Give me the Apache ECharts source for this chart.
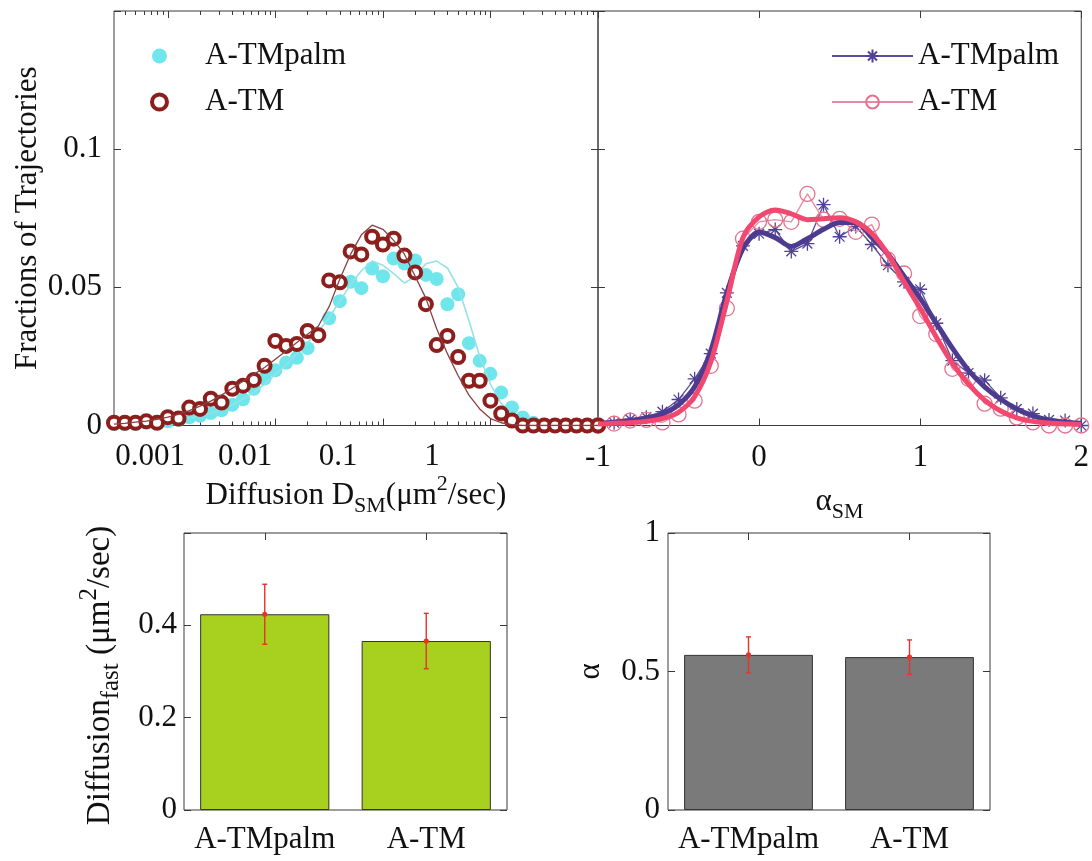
<!DOCTYPE html>
<html><head><meta charset="utf-8">
<script src="https://cdn.jsdelivr.net/npm/echarts@6/dist/echarts.min.js"></script>
<style>html,body{margin:0;padding:0;background:#fff}#c{width:1092px;height:861px}</style>
</head><body><div id="c"></div>
<script>
// ---------- DATA ----------
// log10 of diffusion coefficient D_SM (um^2/sec), bin centres
const logDBins = [-3.5,-3.4,-3.3,-3.2,-3.1,-3.0,-2.9,-2.8,-2.7,-2.6,-2.5,-2.4,-2.3,-2.2,-2.1,-2.0,-1.9,-1.8,-1.7,-1.6,-1.5,-1.4,-1.3,-1.2,-1.1,-1.0,-0.9,-0.8,-0.7,-0.6,-0.5,-0.4,-0.3,-0.2,-0.1,0.0,0.1,0.2,0.3,0.4,0.5,0.6,0.7,0.8,0.9,1.0];
const dPalmPoints = [0.0005,0.0005,0.0005,0.001,0.001,0.0015,0.002,0.003,0.0035,0.0045,0.0055,0.0075,0.0095,0.0133,0.017,0.02,0.0227,0.0245,0.028,0.0331,0.0388,0.045,0.052,0.0497,0.0568,0.054,0.0604,0.0586,0.0597,0.0545,0.053,0.0439,0.0475,0.0298,0.0234,0.0187,0.0119,0.0065,0.0029,0.001,0,0,0,0,0,0];
const dTmPoints = [0.001,0.001,0.001,0.0015,0.001,0.003,0.0025,0.0065,0.006,0.0097,0.0083,0.0133,0.0144,0.0165,0.0216,0.0306,0.0288,0.0295,0.0342,0.0327,0.0525,0.0518,0.063,0.0619,0.0683,0.0655,0.0676,0.0615,0.0554,0.0439,0.0291,0.0324,0.0248,0.0162,0.0162,0.009,0.0043,0.0018,0,0,0,0,0,0,0,0];
const dPalmFit = [0.0003,0.0004,0.0006,0.0008,0.001,0.0014,0.002,0.0027,0.0035,0.0045,0.0058,0.0074,0.0095,0.012,0.015,0.0185,0.022,0.026,0.030,0.034,0.039,0.045,0.051,0.056,0.0595,0.058,0.055,0.0515,0.054,0.0585,0.0595,0.057,0.050,0.038,0.025,0.015,0.008,0.004,0.0015,0.0005,0,0,0,0,0,0];
const dTmFit = [0.0005,0.0008,0.0012,0.0016,0.0022,0.003,0.004,0.0054,0.007,0.0088,0.011,0.0135,0.016,0.0185,0.021,0.024,0.027,0.030,0.033,0.036,0.043,0.053,0.062,0.069,0.0725,0.071,0.067,0.062,0.054,0.046,0.035,0.026,0.018,0.011,0.006,0.0025,0.001,0.0003,0,0,0,0,0,0,0,0];

// alpha_SM bins
const alphaBins = [-1.0,-0.9,-0.8,-0.7,-0.6,-0.5,-0.4,-0.3,-0.2,-0.1,0.0,0.1,0.2,0.3,0.4,0.5,0.6,0.7,0.8,0.9,1.0,1.1,1.2,1.3,1.4,1.5,1.6,1.7,1.8,1.9,2.0];
const aPalmPoints = [0,0.001,0.0022,0.003,0.005,0.0094,0.0169,0.026,0.048,0.065,0.0694,0.0709,0.063,0.0658,0.0799,0.0683,0.072,0.0655,0.058,0.052,0.0493,0.037,0.0235,0.019,0.0164,0.010,0.006,0.0043,0.002,0.0018,0];
const aTmPoints = [0,0.0007,0.0018,0.002,0.0011,0.004,0.009,0.0216,0.0424,0.0676,0.0737,0.0745,0.0737,0.0838,0.0745,0.0748,0.0701,0.0727,0.060,0.055,0.0396,0.0331,0.0205,0.0169,0.0079,0.0061,0.0029,0.0011,0,0,0];
const aPalmFit = [0.0008,0.0012,0.0018,0.0027,0.0042,0.0075,0.014,0.027,0.048,0.064,0.070,0.068,0.0648,0.0676,0.071,0.0735,0.0735,0.068,0.062,0.054,0.046,0.037,0.028,0.020,0.014,0.0095,0.006,0.0035,0.002,0.0012,0.0008];
const aTmFit = [0.0005,0.0008,0.001,0.0015,0.0025,0.0048,0.0105,0.023,0.045,0.068,0.0755,0.078,0.0766,0.0745,0.0748,0.0752,0.0737,0.0695,0.062,0.052,0.0424,0.032,0.0225,0.015,0.0092,0.0052,0.0028,0.0015,0.0009,0.0006,0.0004];

// bar panels
const barCats = ['A-TMpalm','A-TM'];
const diffFastMean = [0.424, 0.366];
const diffFastErr = [0.065, 0.06];
const alphaMean = [0.56, 0.552];
const alphaErr = [0.065, 0.062];

// tick labels of the log axis (as printed in the figure, where they sit along the axis)
const logLabels = ['0.001','0.01','0.1','1'];
const logLabelAt = [-3.165,-2.282,-1.417,-0.543];
const logMajorTicks = [-3,-2,-1,0];

// ---------- CHART ----------
const FONT = 'Liberation Serif';
const AX = '#3a3a3a';
const TXT = '#111';
const FS = 31;
const minorLog = [];
for (let n = -4; n <= 0; n++) for (let k = 2; k <= 9; k++) { const v = n + Math.log10(k); if (v > -3.5 && v < 1) minorLog.push(v); }

const zip = (xs, ys) => xs.map((x, i) => [x, ys[i]]);
const makeRich = (fs, sfs, pad) => ({
  t: {fontFamily: FONT, fontSize: fs, color: TXT},
  sub: {fontFamily: FONT, fontSize: sfs, color: TXT, padding: [pad, 0, 0, 0]},
  sup: {fontFamily: FONT, fontSize: sfs, color: TXT, padding: [0, 0, pad, 0]}
});
const richName = makeRich(FS, 22, 22);
const lbl = (extra) => Object.assign({fontFamily: FONT, fontSize: FS, color: TXT}, extra);
const tick = (len, extra) => Object.assign({show: true, inside: true, length: len, lineStyle: {color: AX, width: 1}}, extra);
const noLine = {show: false, onZero: false};
const ticksOnly = (o) => Object.assign({axisLine: noLine, splitLine: {show: false}, axisLabel: {show: false}}, o);
const nearestIdx = (arr, v) => { let b = 0; arr.forEach((a, i) => { if (Math.abs(a - v) < Math.abs(arr[b] - v)) b = i; }); return b; };

const xAxes = [
  // grid 0 bottom: major ticks + labels
  {type: 'value', gridIndex: 0, position: 'bottom', min: -3.5, max: 1,
   axisLine: noLine, splitLine: {show: false},
   axisTick: tick(7, {customValues: logMajorTicks}),
   axisLabel: lbl({customValues: logLabelAt, margin: 16, formatter: v => logLabels[nearestIdx(logLabelAt, v)]}),
   name: '{t|Diffusion D}{sub|SM}{t|(μm}{sup|2}{t|/sec)}', nameLocation: 'middle', nameGap: 42,
   nameTextStyle: {rich: richName}},
  ticksOnly({type: 'value', gridIndex: 0, position: 'bottom', min: -3.5, max: 1, axisTick: tick(4, {customValues: minorLog})}),
  ticksOnly({type: 'value', gridIndex: 0, position: 'top', min: -3.5, max: 1, axisTick: tick(7, {customValues: logMajorTicks})}),
  ticksOnly({type: 'value', gridIndex: 0, position: 'top', min: -3.5, max: 1, axisTick: tick(4, {customValues: minorLog})}),
  // grid 1
  {type: 'value', gridIndex: 1, position: 'bottom', min: -1, max: 2, interval: 1,
   axisLine: noLine, splitLine: {show: false}, axisTick: tick(7),
   axisLabel: lbl({margin: 17}),
   name: '{t|α}{sub|SM}', nameLocation: 'middle', nameGap: 54, nameTextStyle: {rich: richName}},
  ticksOnly({type: 'value', gridIndex: 1, position: 'top', min: -1, max: 2, interval: 1, axisTick: tick(7)}),
  // grid 2
  {type: 'category', gridIndex: 2, position: 'bottom', data: barCats,
   axisLine: noLine, splitLine: {show: false}, axisTick: {show: false},
   axisLabel: lbl({margin: 14, interval: 0})},
  ticksOnly({type: 'category', gridIndex: 2, position: 'top', data: barCats, axisTick: tick(7, {alignWithLabel: true, interval: 0})}),
  // grid 3
  {type: 'category', gridIndex: 3, position: 'bottom', data: barCats,
   axisLine: noLine, splitLine: {show: false}, axisTick: {show: false},
   axisLabel: lbl({margin: 14, interval: 0})},
  ticksOnly({type: 'category', gridIndex: 3, position: 'top', data: barCats, axisTick: tick(7, {alignWithLabel: true, interval: 0})})
];

const yAxes = [
  {type: 'value', gridIndex: 0, position: 'left', min: 0, max: 0.15, interval: 0.05,
   axisLine: noLine, splitLine: {show: false}, axisTick: tick(7),
   axisLabel: lbl({margin: 12, formatter: v => v > 0.14 ? '' : String(+v.toFixed(2))}),
   name: 'Fractions of Trajectories', nameLocation: 'middle', nameGap: 68,
   nameTextStyle: {fontFamily: FONT, fontSize: FS, color: TXT}},
  ticksOnly({type: 'value', gridIndex: 0, position: 'right', min: 0, max: 0.15, interval: 0.05, axisTick: tick(7)}),
  ticksOnly({type: 'value', gridIndex: 1, position: 'left', min: 0, max: 0.15, interval: 0.05, axisTick: tick(7)}),
  ticksOnly({type: 'value', gridIndex: 1, position: 'right', min: 0, max: 0.15, interval: 0.05, axisTick: tick(7)}),
  {type: 'value', gridIndex: 2, position: 'left', min: 0, max: 0.6, interval: 0.2,
   axisLine: noLine, splitLine: {show: false}, axisTick: tick(7),
   axisLabel: lbl({margin: 7, formatter: v => v > 0.55 ? '' : String(+v.toFixed(1))}),
   name: '{t|Diffusion}{sub|fast}{t| (μm}{sup|2}{t|/sec)}', nameLocation: 'middle', nameGap: 60,
   nameTextStyle: {rich: makeRich(33, 25, 22), padding: [0, 8, 0, 0]}},
  ticksOnly({type: 'value', gridIndex: 2, position: 'right', min: 0, max: 0.6, interval: 0.2, axisTick: tick(7)}),
  {type: 'value', gridIndex: 3, position: 'left', min: 0, max: 1, interval: 0.5,
   axisLine: noLine, splitLine: {show: false}, axisTick: tick(7),
   axisLabel: lbl({margin: 8, formatter: v => String(+v.toFixed(1))}),
   name: 'α', nameLocation: 'middle', nameGap: 62,
   nameTextStyle: {fontFamily: FONT, fontSize: FS, color: TXT}},
  ticksOnly({type: 'value', gridIndex: 3, position: 'right', min: 0, max: 1, interval: 0.5, axisTick: tick(7)})
];

const STAR = 'path://M5,0L5,10M0,5L10,5M1.5,1.5L8.5,8.5M1.5,8.5L8.5,1.5';
const RED = '#8c1e1c', CYAN = '#6ee6ec', PURPLE = '#4f4196', PINK = '#e4728f';

function errRender(params, api) {
  const x = api.value(0), m = api.value(1), e = api.value(2);
  const top = api.coord([x, m + e]), bot = api.coord([x, m - e]), mid = api.coord([x, m]);
  const c = 2.5, st = {stroke: '#e2352c', lineWidth: 1.4};
  return {type: 'group', children: [
    {type: 'line', shape: {x1: top[0], y1: top[1], x2: bot[0], y2: bot[1]}, style: st},
    {type: 'line', shape: {x1: top[0] - c, y1: top[1], x2: top[0] + c, y2: top[1]}, style: st},
    {type: 'line', shape: {x1: bot[0] - c, y1: bot[1], x2: bot[0] + c, y2: bot[1]}, style: st},
    {type: 'circle', shape: {cx: mid[0], cy: mid[1], r: 2.6}, style: {fill: '#e2352c'}}
  ]};
}

const legendNames = {'A-TMpalm': 'A-TMpalm', 'A-TM': 'A-TM', 'A-TMpalm α': 'A-TMpalm', 'A-TM α': 'A-TM'};

const option = {
  animation: false,
  backgroundColor: '#fff',
  grid: [
    {left: 114, top: 11, width: 484, height: 414.5, show: true, borderColor: AX, borderWidth: 1, backgroundColor: 'transparent'},
    {left: 598, top: 11, width: 485, height: 414.5, show: true, borderColor: AX, borderWidth: 1, backgroundColor: 'transparent'},
    {left: 184, top: 533, width: 323, height: 277, show: true, borderColor: AX, borderWidth: 1, backgroundColor: 'transparent'},
    {left: 668, top: 533, width: 322, height: 277, show: true, borderColor: AX, borderWidth: 1, backgroundColor: 'transparent'}
  ],
  legend: [
    {data: ['A-TMpalm', {name: 'A-TM', itemStyle: {color: '#ffffff', borderColor: RED, borderWidth: 4}}],
     orient: 'vertical', left: 145, top: 34, itemWidth: 81, itemHeight: 15, itemGap: 12,
     selectedMode: false, formatter: n => legendNames[n],
     textStyle: {fontFamily: FONT, fontSize: FS, color: TXT, lineHeight: 34}},
    {data: ['A-TMpalm α', 'A-TM α'], orient: 'vertical', left: 826, top: 34, itemWidth: 81, itemHeight: 16, itemGap: 12,
     selectedMode: false, formatter: n => legendNames[n],
     textStyle: {fontFamily: FONT, fontSize: FS, color: TXT, lineHeight: 34}}
  ],
  xAxis: xAxes,
  yAxis: yAxes,
  series: [
    {name: 'A-TMpalm', type: 'scatter', xAxisIndex: 0, yAxisIndex: 0, data: zip(logDBins, dPalmPoints),
     symbol: 'circle', symbolSize: 14, itemStyle: {color: CYAN, opacity: 1}, clip: false, z: 2},
    {name: 'A-TMpalm fit', type: 'line', xAxisIndex: 0, yAxisIndex: 0, data: zip(logDBins, dPalmFit),
     showSymbol: false, lineStyle: {color: '#93e2e6', width: 1.6}, z: 3},
    {name: 'A-TM', type: 'scatter', xAxisIndex: 0, yAxisIndex: 0, data: zip(logDBins, dTmPoints),
     symbol: 'circle', symbolSize: 12, itemStyle: {color: '#ffffff', borderColor: RED, borderWidth: 4, opacity: 1}, clip: false, z: 4},
    {name: 'A-TM fit', type: 'line', xAxisIndex: 0, yAxisIndex: 0, data: zip(logDBins, dTmFit),
     showSymbol: false, lineStyle: {color: '#8a4040', width: 1.3}, z: 5},

    {name: 'A-TMpalm α', type: 'line', xAxisIndex: 4, yAxisIndex: 2, data: zip(alphaBins, aPalmPoints),
     symbol: STAR, symbolSize: 14, showAllSymbol: true, clip: false,
     itemStyle: {color: PURPLE, borderColor: PURPLE, borderWidth: 1.3},
     lineStyle: {color: '#5a4c9e', width: 1.3}, z: 2},
    {name: 'A-TM α', type: 'line', xAxisIndex: 4, yAxisIndex: 2, data: zip(alphaBins, aTmPoints),
     symbol: 'circle', symbolSize: 15, showAllSymbol: true, clip: false,
     itemStyle: {color: 'rgba(0,0,0,0)', borderColor: PINK, borderWidth: 1.3},
     lineStyle: {color: '#e88aa2', width: 1.3}, z: 3},
    {name: 'A-TMpalm α fit', type: 'line', xAxisIndex: 4, yAxisIndex: 2, data: zip(alphaBins, aPalmFit),
     showSymbol: false, smooth: 0.3, lineStyle: {color: '#4d3b8f', width: 5}, z: 4},
    {name: 'A-TM α fit', type: 'line', xAxisIndex: 4, yAxisIndex: 2, data: zip(alphaBins, aTmFit),
     showSymbol: false, smooth: 0.3, lineStyle: {color: '#f2476f', width: 5}, z: 5},

    {name: 'Diffusion fast', type: 'bar', xAxisIndex: 6, yAxisIndex: 4, data: diffFastMean, barWidth: '80%',
     itemStyle: {color: '#a8d01f', borderColor: '#333', borderWidth: 1}},
    {name: 'Diffusion fast err', type: 'custom', xAxisIndex: 6, yAxisIndex: 4, renderItem: errRender,
     data: diffFastMean.map((m, i) => [i, m, diffFastErr[i]]), z: 5},
    {name: 'alpha', type: 'bar', xAxisIndex: 8, yAxisIndex: 6, data: alphaMean, barWidth: '80%',
     itemStyle: {color: '#7a7a7a', borderColor: '#333', borderWidth: 1}},
    {name: 'alpha err', type: 'custom', xAxisIndex: 8, yAxisIndex: 6, renderItem: errRender,
     data: alphaMean.map((m, i) => [i, m, alphaErr[i]]), z: 5}
  ]
};
const chart = echarts.init(document.getElementById('c'), null, {renderer: 'canvas'});
chart.setOption(option);
</script>
</body></html>
